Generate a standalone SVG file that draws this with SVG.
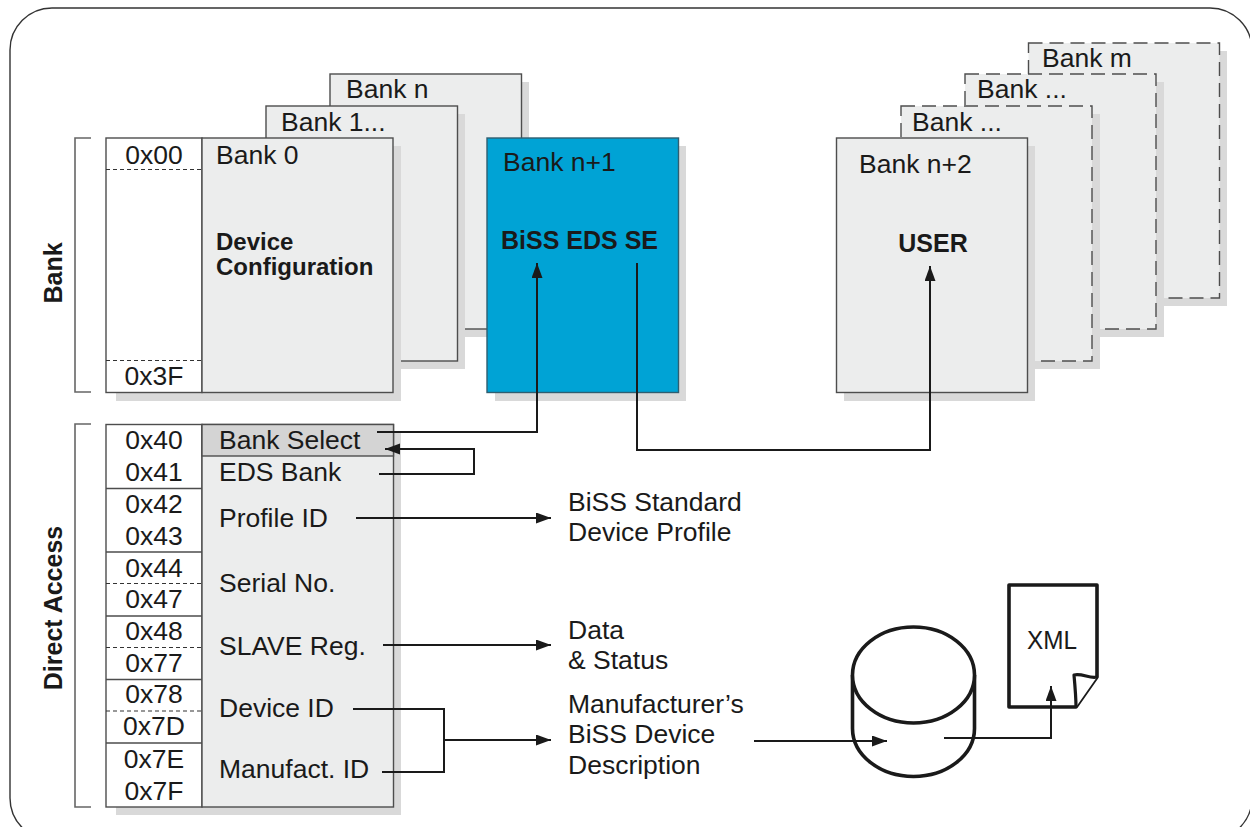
<svg xmlns="http://www.w3.org/2000/svg" width="1250" height="827" viewBox="0 0 1250 827">
<defs>
<marker id="ah" markerWidth="16" markerHeight="12" refX="15" refY="5.5" orient="auto" markerUnits="userSpaceOnUse">
<path d="M0,0 L15,5.5 L0,11 z" fill="#1a1a1a"/>
</marker>
</defs>
<style>
text{font-family:"Liberation Sans",Arial,sans-serif;fill:#1a1a1a;font-size:26.5px}
.b{font-weight:bold;font-size:25px}
.b2{font-weight:bold;font-size:24px}
.c{text-anchor:middle}
.sh{fill:#d9d9d9;stroke:none}
.box{fill:#eceded;stroke:#4d4d4d;stroke-width:1.4}
.dbox{fill:#eceded;stroke:#4d4d4d;stroke-width:1.4;stroke-dasharray:14 7}
.wcol{fill:#ffffff;stroke:#4d4d4d;stroke-width:1.4}
.blue{fill:#00a3d5;stroke:#2f5e70;stroke-width:1.4}
.dash{stroke:#333;stroke-width:1.2;stroke-dasharray:4 3;fill:none}
.sep{stroke:#4d4d4d;stroke-width:1.4;fill:none}
.brk{stroke:#666;stroke-width:1.6;fill:none}
.con{stroke:#1a1a1a;stroke-width:2;fill:none}
.thick{stroke:#1a1a1a;stroke-width:3.6;fill:#ffffff}
</style>
<rect id="frame" x="10" y="8" width="1242" height="832" rx="42" fill="#ffffff" stroke="#333" stroke-width="1.4"/>

<g id="bank-label">
<path class="brk" d="M91,138 H75 V392 H91"/>
<text class="b c" transform="translate(62,273) rotate(-90)">Bank</text>
</g>
<g id="direct-label">
<path class="brk" d="M91,424 H75 V807 H91"/>
<text class="b c" transform="translate(62,608) rotate(-90)">Direct Access</text>
</g>

<g id="bank-n">
<rect class="sh" x="338" y="82" width="191" height="255"/>
<rect class="box" x="330" y="74" width="191.5" height="255"/>
<text x="346" y="98">Bank n</text>
</g>
<g id="bank-1">
<rect class="sh" x="274" y="114" width="191" height="255"/>
<rect class="box" x="266" y="106" width="191.5" height="255"/>
<text x="281" y="131">Bank 1...</text>
</g>
<g id="bank-0">
<rect class="sh" x="116" y="146" width="285" height="255"/>
<rect class="wcol" x="106" y="138" width="96" height="254.5"/>
<rect class="box" x="202" y="138" width="191" height="254.5"/>
<path class="dash" d="M106,169.5 H202 M106,360.5 H202"/>
<text class="c" x="154" y="164">0x00</text>
<text class="c" x="154" y="385">0x3F</text>
<text x="216" y="164">Bank 0</text>
<text class="b2" x="216" y="250">Device</text>
<text class="b2" x="216" y="275">Configuration</text>
</g>
<g id="bank-n1">
<rect class="sh" x="495" y="146" width="191" height="255"/>
<rect class="blue" x="487" y="138" width="191.5" height="254.5"/>
<text x="503" y="171">Bank n+1</text>
<text class="b" x="501" y="249">BiSS EDS SE</text>
</g>

<g id="bank-m">
<rect class="sh" x="1036" y="51" width="191" height="255"/>
<rect class="dbox" x="1028.5" y="43" width="191" height="255"/>
<text x="1042" y="67">Bank m</text>
</g>
<g id="bank-dots2">
<rect class="sh" x="973" y="82" width="191" height="255"/>
<rect class="dbox" x="965" y="74" width="191" height="255"/>
<text x="977" y="98">Bank ...</text>
</g>
<g id="bank-dots1">
<rect class="sh" x="909" y="114" width="191" height="255"/>
<rect class="dbox" x="901" y="106" width="191" height="255"/>
<text x="912" y="131">Bank ...</text>
</g>
<g id="bank-n2">
<rect class="sh" x="844" y="146" width="191" height="255"/>
<rect class="box" x="836.5" y="138" width="191" height="254.5"/>
<text x="859" y="173">Bank n+2</text>
<text class="b c" x="933" y="252">USER</text>
</g>

<g id="direct-table">
<rect class="sh" x="116" y="432" width="285" height="383"/>
<rect class="wcol" x="106" y="424.5" width="96" height="382.5"/>
<rect class="box" x="202" y="424.5" width="191.5" height="382.5"/>
<rect fill="#d4d4d4" stroke="#4d4d4d" stroke-width="1.4" x="202" y="424.5" width="191.5" height="31.5"/>
<path class="sep" d="M106,488.5 H202 M106,552 H202 M106,616 H202 M106,679.5 H202 M106,743 H202"/>
<path class="dash" d="M106,583.5 H202 M106,647.5 H202 M106,711 H202"/>
<text class="c" x="154" y="449">0x40</text>
<text class="c" x="154" y="481">0x41</text>
<text class="c" x="154" y="513">0x42</text>
<text class="c" x="154" y="545">0x43</text>
<text class="c" x="154" y="577">0x44</text>
<text class="c" x="154" y="608">0x47</text>
<text class="c" x="154" y="640">0x48</text>
<text class="c" x="154" y="672">0x77</text>
<text class="c" x="154" y="703">0x78</text>
<text class="c" x="154" y="735">0x7D</text>
<text class="c" x="154" y="768">0x7E</text>
<text class="c" x="154" y="800">0x7F</text>
<text x="219" y="449">Bank Select</text>
<text x="219" y="481">EDS Bank</text>
<text x="219" y="527">Profile ID</text>
<text x="219" y="592">Serial No.</text>
<text x="219" y="655">SLAVE Reg.</text>
<text x="219" y="717">Device ID</text>
<text x="219" y="778">Manufact. ID</text>
</g>

<g id="profile-text">
<text x="568" y="511">BiSS Standard</text>
<text x="568" y="541">Device Profile</text>
</g>
<g id="data-text">
<text x="568" y="639">Data</text>
<text x="568" y="669">&amp; Status</text>
</g>
<g id="description-text">
<text x="568" y="713">Manufacturer’s</text>
<text x="568" y="743">BiSS Device</text>
<text x="568" y="774">Description</text>
</g>

<g id="database">
<path class="thick" d="M852.5,675 V728.5 A61,48 0 0 0 974.5,728.5 V675"/>
<ellipse class="thick" cx="913.5" cy="675" rx="61" ry="48"/>
</g>
<g id="xml-doc">
<path class="thick" d="M1009,585 H1097 V677 L1076,707 H1009 Z" stroke-linejoin="round"/>
<path d="M1097,677 C1090,679 1082,673 1074,675 C1075,686 1076,697 1076,707" fill="#ffffff" stroke="#1a1a1a" stroke-width="3.2" stroke-linejoin="round"/>
<text class="c" x="1052" y="649" font-size="27" textLength="50" lengthAdjust="spacingAndGlyphs">XML</text>
</g>

<g id="connectors">
<path class="con" d="M377,432 H537 V263" marker-end="url(#ah)"/>
<path class="con" d="M379,474 H474 V449 H385" marker-end="url(#ah)"/>
<path class="con" d="M637,263 V450 H930 V266" marker-end="url(#ah)"/>
<path class="con" d="M356,518 H551" marker-end="url(#ah)"/>
<path class="con" d="M383,645 H551" marker-end="url(#ah)"/>
<path class="con" d="M353,709 H444 V772 H382"/>
<path class="con" d="M444,740 H551" marker-end="url(#ah)"/>
<path class="con" d="M754,741 H887" marker-end="url(#ah)"/>
<path class="con" d="M944,738 H1051 V686" marker-end="url(#ah)"/>
</g>
</svg>
